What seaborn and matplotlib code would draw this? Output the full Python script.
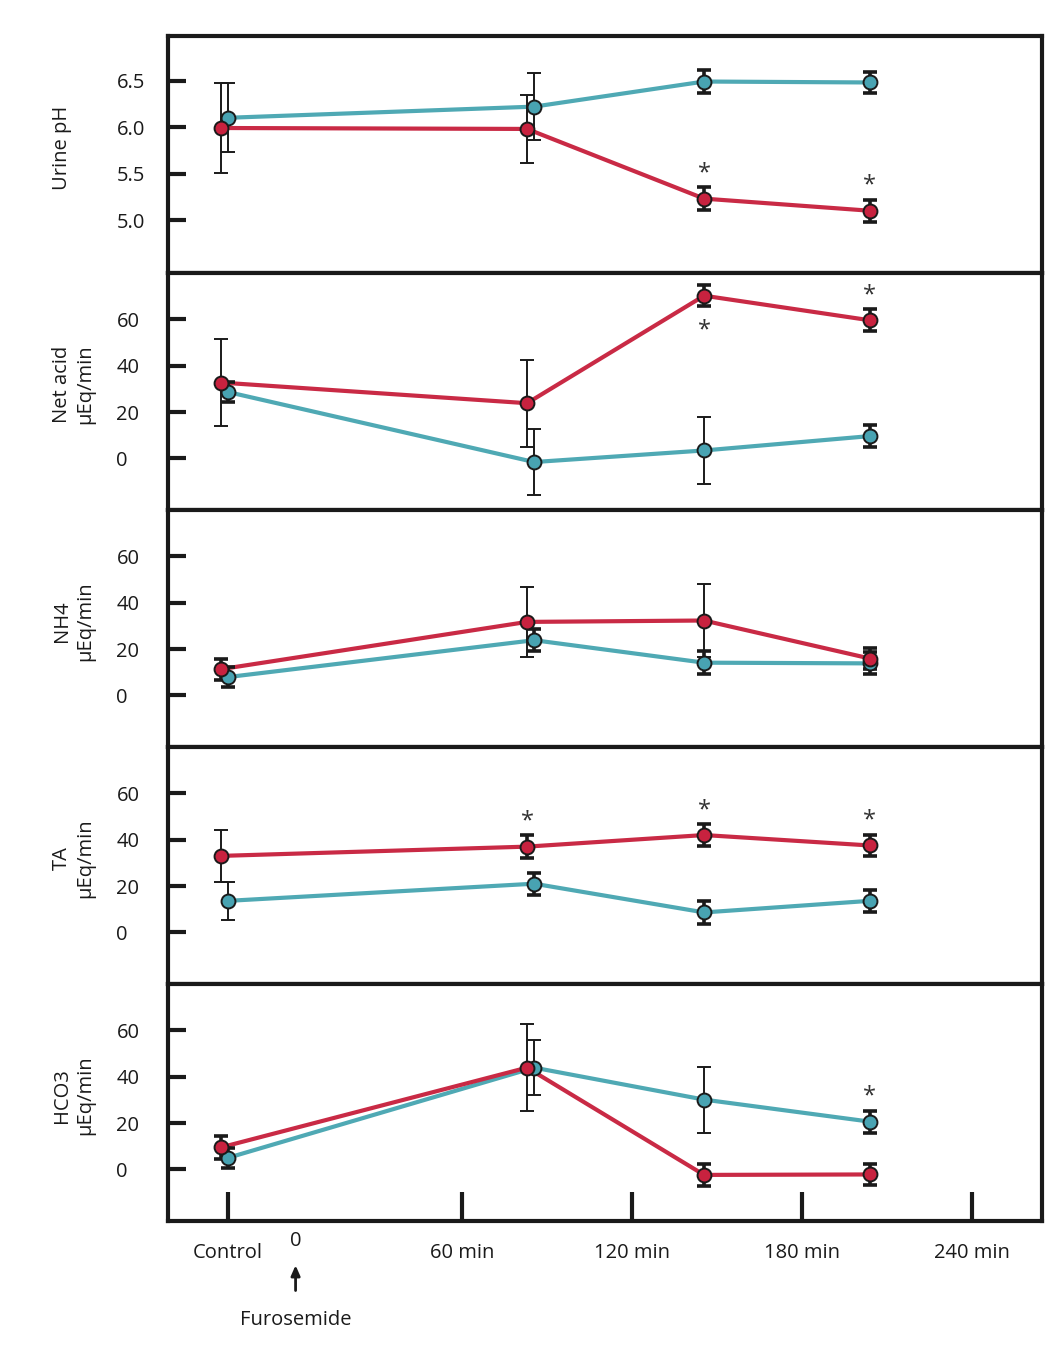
# Urine acidification after furosemide - five stacked panels
import numpy as np
import pandas as pd
import matplotlib
matplotlib.use("Agg")
import matplotlib.pyplot as plt
import matplotlib.transforms as mtransforms
import seaborn as sns

# 1. Data
time_red = [-25, 83, 145.5, 204]
time_teal = [-22.5, 85.5, 145.5, 204]

ph_red = [5.99, 5.98, 5.23, 5.10]
ph_red_err = [0.48, 0.37, 0.125, 0.12]
ph_teal = [6.10, 6.22, 6.49, 6.48]
ph_teal_err = [0.37, 0.36, 0.12, 0.11]

netacid_red = [32.7, 23.8, 70.2, 59.6]
netacid_red_err = [18.9, 18.8, 4.6, 4.7]
netacid_teal = [28.6, -1.6, 3.4, 9.6]
netacid_teal_err = [4.4, 14.2, 14.3, 4.7]

nh4_red = [11.3, 31.7, 32.3, 15.9]
nh4_red_err = [4.6, 15.0, 15.8, 4.7]
nh4_teal = [7.9, 23.8, 14.1, 13.8]
nh4_teal_err = [4.2, 4.7, 4.9, 4.7]

ta_red = [33.0, 37.0, 42.0, 37.5]
ta_red_err = [11.1, 4.9, 4.7, 4.7]
ta_teal = [13.6, 21.0, 8.6, 13.6]
ta_teal_err = [8.3, 4.7, 4.8, 4.7]

hco3_red = [9.5, 43.9, -2.4, -2.2]
hco3_red_err = [4.9, 18.8, 4.7, 4.7]
hco3_teal = [5.0, 43.9, 30.1, 20.6]
hco3_teal_err = [4.4, 11.9, 14.2, 4.7]

panel_labels = ["Urine pH", "Net acid\nµEq/min", "NH4\nµEq/min", "TA\nµEq/min", "HCO3\nµEq/min"]

# significance marks: (panel, series, point, above?)
stars = [
    (0, "red", 2, True), (0, "red", 3, True),
    (1, "red", 2, False), (1, "red", 3, True),
    (3, "red", 1, True), (3, "red", 2, True), (3, "red", 3, True),
    (4, "teal", 3, True),
]

x_ticks = [-22.5, 60, 120, 180, 240]
x_ticklabels = ["Control", "60 min", "120 min", "180 min", "240 min"]

# 2. Build tables
values = {
    "red": [ph_red, netacid_red, nh4_red, ta_red, hco3_red],
    "teal": [ph_teal, netacid_teal, nh4_teal, ta_teal, hco3_teal],
}
errors = {
    "red": [ph_red_err, netacid_red_err, nh4_red_err, ta_red_err, hco3_red_err],
    "teal": [ph_teal_err, netacid_teal_err, nh4_teal_err, ta_teal_err, hco3_teal_err],
}
times = {"red": time_red, "teal": time_teal}

line_col = {"red": "#c92a45", "teal": "#4fa9b4"}
dot_col = {"red": "#c8223f", "teal": "#48a3b2"}
ink = "#1a1a1a"

# 3. Plot
sns.set_theme(style="white")
plt.rcParams["font.family"] = ["Open Sans", "DejaVu Sans"]

fig, axes = plt.subplots(5, 1, figsize=(10.62, 13.48), dpi=100, sharex=True)
fig.subplots_adjust(left=0.158, right=0.981, top=0.9733, bottom=0.0942, hspace=0)

for i, ax in enumerate(axes):
    if i == 0:
        ylim = (4.43, 6.98)
        yticks = [5.0, 5.5, 6.0, 6.5]
        ylabels = ["5.0", "5.5", "6.0", "6.5"]
    else:
        ylim = (-22.3, 80)
        yticks = [0, 20, 40, 60]
        ylabels = ["0", "20", "40", "60"]
    rng = ylim[1] - ylim[0]

    for name in ["teal", "red"]:
        df = pd.DataFrame({"time": times[name], "value": values[name][i],
                           "err": errors[name][i]})
        sns.lineplot(data=df, x="time", y="value", color=line_col[name], lw=3.0,
                     sort=False, legend=False, ax=ax, zorder=2)
        for x, y, e in zip(df["time"], df["value"], df["err"]):
            lw = 2.6 if e / rng < 0.07 else 1.4
            ax.errorbar(x, y, yerr=e, fmt="none", ecolor=ink, elinewidth=lw,
                        capsize=5, capthick=lw, zorder=3)
        sns.scatterplot(data=df, x="time", y="value", color=dot_col[name],
                        edgecolor=ink, linewidth=1.4, s=100, legend=False,
                        ax=ax, zorder=4)

    ax.set_ylim(*ylim)
    ax.set_xlim(-43.8, 264.7)
    ax.set_yticks(yticks, ylabels)
    ax.tick_params(axis="y", left=True, direction="in", length=13, width=3,
                   pad=37, labelsize=14.5, colors=ink)
    for lab in ax.get_yticklabels():
        lab.set_ha("left")
    ax.set_xlabel("")
    ax.set_ylabel("")
    for sp in ax.spines.values():
        sp.set_linewidth(3)
        sp.set_color(ink)
    ax.text(-0.1327, 0.53, panel_labels[i], transform=ax.transAxes, rotation=90,
            ha="left", va="center", multialignment="center", fontsize=14.5, color=ink)
    if i < 4:
        ax.tick_params(axis="x", bottom=False, labelbottom=False)

for p, name, k, above in stars:
    ax = axes[p]
    y = values[name][p][k]
    e = errors[name][p][k]
    if above:
        ax.annotate("*", xy=(times[name][k], y + e), xytext=(0, 10),
                    textcoords="offset points", ha="center", va="center",
                    fontsize=17, color="#333333")
    else:
        ax.annotate("*", xy=(times[name][k], y - e), xytext=(0, -17),
                    textcoords="offset points", ha="center", va="center",
                    fontsize=17, color="#333333")

# bottom time axis
ax5 = axes[-1]
ax5.set_xticks(x_ticks, x_ticklabels)
ax5.tick_params(axis="x", bottom=True, direction="in", length=21, width=3,
                pad=16, labelsize=14.5, colors=ink)

trans = mtransforms.blended_transform_factory(ax5.transData, ax5.transAxes)
ax5.text(1.3, -0.084, "0", transform=trans, ha="center", va="center",
         fontsize=14.5, color=ink)
ax5.annotate("", xy=(1.3, -0.175), xytext=(1.3, -0.305), xycoords=trans,
             textcoords=trans, annotation_clip=False,
             arrowprops=dict(arrowstyle="-|>,head_length=0.5,head_width=0.22",
                             lw=2, color=ink))
ax5.text(1.3, -0.418, "Furosemide", transform=trans, ha="center", va="center",
         fontsize=14.5, color=ink)

plt.savefig("out.png", dpi=100)
